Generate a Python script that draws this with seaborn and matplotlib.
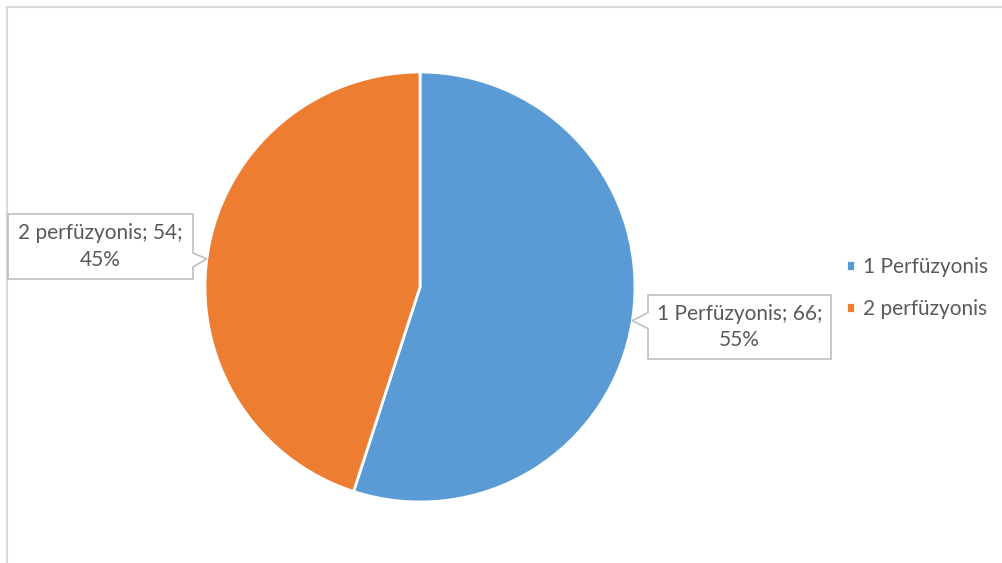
import numpy as np
import matplotlib
matplotlib.use("Agg")
import matplotlib.pyplot as plt
from matplotlib.patches import Polygon
from matplotlib.lines import Line2D
import seaborn as sns

# Data
categories = ["1 Perfüzyonis", "2 perfüzyonis"]
values = [66, 54]
colors = ["#5B9BD5", "#ED7D31"]

sns.set_theme(style="white")
plt.rcParams["font.family"] = ["Lato", "DejaVu Sans"]

W, H = 1003, 563
FS = 15
fig = plt.figure(figsize=(W / 100, H / 100), dpi=100)
fig.patch.set_facecolor("white")


def fx(x):
    return x / W


def fy(y):
    return 1 - y / H


# Chart area border (top and left edges visible)
border_kw = dict(color="#d9d9d9", linewidth=1.5, transform=fig.transFigure)
fig.add_artist(Line2D([fx(7), fx(W + 5)], [fy(7), fy(7)], **border_kw))
fig.add_artist(Line2D([fx(7), fx(7)], [fy(7), fy(H + 5)], **border_kw))

# Pie
cx, cy, r = 420, 287, 215
ax = fig.add_axes([fx(cx - r), fy(cy + r), 2 * r / W, 2 * r / H])
wedges, _ = ax.pie(values, colors=colors, startangle=90, counterclock=False,
                   radius=1.0, wedgeprops=dict(edgecolor="white", linewidth=2))
ax.set_xlim(-1, 1)
ax.set_ylim(-1, 1)
ax.axis("off")

total = sum(values)
label_texts = [f"{c}; {v};\n{round(100 * v / total)}%" for c, v in zip(categories, values)]


def tip_px(angle_deg):
    a = np.deg2rad(angle_deg)
    return cx + r * np.cos(a), cy - r * np.sin(a)


def callout(box, tip, side, text):
    x0, y0, x1, y1 = box
    tx, ty = tip
    if side == "left":
        pts = [(x0, y0), (x1, y0), (x1, y1), (x0, y1),
               (x0, ty + 8), (tx, ty), (x0, ty - 8)]
    else:
        pts = [(x0, y0), (x1, y0), (x1, ty - 6), (tx, ty), (x1, ty + 8),
               (x1, y1), (x0, y1)]
    poly = Polygon([(fx(px), fy(py)) for px, py in pts], closed=True,
                   facecolor="white", edgecolor="#bfbfbf", linewidth=1.2,
                   transform=fig.transFigure, zorder=5)
    fig.add_artist(poly)
    fig.text(fx((x0 + x1) / 2), fy((y0 + y1) / 2), text, ha="center", va="center",
             fontsize=FS, color="#595959", linespacing=1.4, zorder=6)


callout((648, 295, 831, 359), tip_px(-9), "left", label_texts[0])
callout((8, 214, 193, 279), tip_px(172.5), "right", label_texts[1])

# Legend
fig.legend(wedges, categories, loc="center left",
           bbox_to_anchor=(fx(827), fy(288)), frameon=False,
           fontsize=FS, labelcolor="#595959", handlelength=0.45,
           handleheight=0.45, handletextpad=0.4, labelspacing=1.05)

fig.savefig("out.png", dpi=100, facecolor="white")
